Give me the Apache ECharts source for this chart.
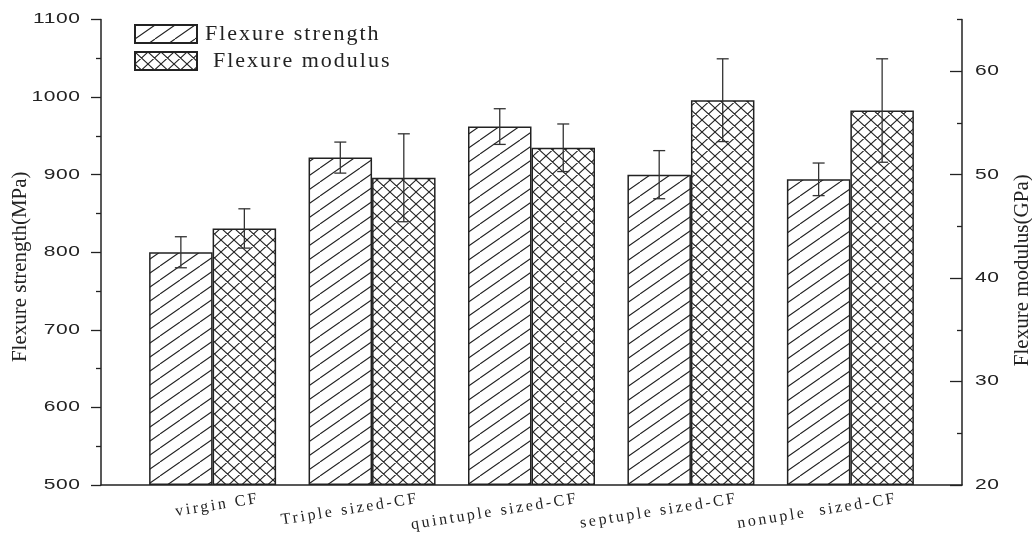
<!DOCTYPE html>
<html>
<head>
<meta charset="utf-8">
<script src="https://cdn.jsdelivr.net/npm/echarts@6/dist/echarts.min.js"></script>
<style>
  html, body { margin: 0; padding: 0; background: #fff; }
  #chart { width: 1032px; height: 538px; }
</style>
</head>
<body>
<div id="chart"></div>
<script>
// Fibre treatments on the category axis
const categories = ['virgin CF', 'Triple sized-CF', 'quintuple sized-CF', 'septuple sized-CF', 'nonuple  sized-CF'];

// Flexure strength (MPa) and its spread
const strength = [800, 922, 962, 900, 894];
const strengthErr = [20, 20, 23, 31, 21];

// Flexure modulus (GPa) and its spread
const modulus = [44.8, 49.7, 52.6, 57.2, 56.2];
const modulusErr = [1.9, 4.25, 2.3, 4.0, 5.0];

// Right-hand axis tick marks
const modulusTicks = [20, 30, 40, 50, 60];
const modulusMinorTicks = [25, 35, 45, 55, 65];

const SERIES_NAMES = ['Flexure strength', 'Flexure modulus'];
const INK = '#222';
const BAR_W = 63.5;
const LABEL_SHIFT = 0.276;   // category names sit to the right of the group centre

// Wide, letter-spaced lettering for tick numbers, category names and legend
const TEXT_LOOKS = {
  14: { sx: 1.5, ls: 0.4 },
  16: { sx: 1, ls: 2.6 },
  22: { sx: 1, ls: 2 }
};
(function () {
  const proto = CanvasRenderingContext2D.prototype;
  const nativeFill = proto.fillText;
  proto.fillText = function (text, x, y) {
    const m = /(\d+(?:\.\d+)?)px/.exec(this.font);
    const look = m && TEXT_LOOKS[Math.round(parseFloat(m[1]))];
    if (!look) return nativeFill.apply(this, arguments);
    this.save();
    let ax = x;
    if (look.ls) {
      this.letterSpacing = look.ls + 'px';
      if (this.textAlign === 'right' || this.textAlign === 'end') ax += look.ls;
      else if (this.textAlign === 'center') ax += look.ls / 2;
    }
    if (look.sx !== 1) {
      const t = this.getTransform();
      const p = t.transformPoint(new DOMPoint(x, y));
      this.setTransform(new DOMMatrix().translate(p.x, p.y).scale(look.sx, 1).translate(-p.x, -p.y).multiply(t));
    }
    nativeFill.call(this, text, ax, y);
    this.restore();
  };
})();

// Hatch tiles used as bar fills
function hatchTile(cross) {
  const w = cross ? 13 : 20;
  const h = cross ? 12 : 14;
  const c = document.createElement('canvas');
  c.width = w; c.height = h;
  const ctx = c.getContext('2d');
  ctx.fillStyle = '#fff';
  ctx.fillRect(0, 0, w, h);
  ctx.strokeStyle = INK;
  ctx.lineWidth = 1.1;
  ctx.beginPath();
  for (const dx of [-w, 0, w]) {
    for (const dy of (cross ? [-h, 0, h] : [0])) {
      ctx.moveTo(dx, dy + h); ctx.lineTo(dx + w, dy);
      if (cross) { ctx.moveTo(dx, dy); ctx.lineTo(dx + w, dy + h); }
    }
  }
  ctx.stroke();
  return c;
}

function errorBars(shift) {
  return function (params, api) {
    const x = api.value(0), v = api.value(1), e = api.value(2);
    const hi = api.coord([x, v + e]);
    const lo = api.coord([x, v - e]);
    const cx = hi[0] + shift;
    const half = 6;
    const style = { stroke: '#333', lineWidth: 1.3, fill: null };
    return {
      type: 'group',
      children: [
        { type: 'line', shape: { x1: cx, y1: hi[1], x2: cx, y2: lo[1] }, style },
        { type: 'line', shape: { x1: cx - half, y1: hi[1], x2: cx + half, y2: hi[1] }, style },
        { type: 'line', shape: { x1: cx - half, y1: lo[1], x2: cx + half, y2: lo[1] }, style }
      ]
    };
  };
}

const axisLine = { show: true, onZero: false, lineStyle: { color: INK, width: 1.5 } };
const tickStyle = { color: INK, width: 1.3 };
const numberLabel = { fontFamily: 'Liberation Sans', fontSize: 14, color: INK, formatter: v => String(v) };
const titleStyle = { fontFamily: 'Liberation Serif', fontSize: 21, color: INK };

const chart = echarts.init(document.getElementById('chart'), null, { renderer: 'canvas' });
chart.setOption({
  backgroundColor: '#fff',
  animation: false,
  grid: { left: 101, right: 70, top: 19.5, bottom: 53, outerBoundsMode: 'none' },
  legend: {
    orient: 'vertical',
    left: 134,
    top: 23,
    padding: 0,
    itemWidth: 62,
    itemHeight: 18,
    itemGap: 5,
    icon: 'rect',
    selectedMode: false,
    data: [
      { name: SERIES_NAMES[0] },
      { name: SERIES_NAMES[1], textStyle: { padding: [3, 0, 0, 11] } }
    ],
    textStyle: { fontFamily: 'Liberation Serif', fontSize: 22, color: INK, padding: [3, 0, 0, 3] }
  },
  xAxis: {
    type: 'value',
    min: -0.7,
    max: 4.7,
    splitLine: { show: false },
    axisTick: { show: false },
    axisLine: { show: true, onZero: false, lineStyle: { color: INK, width: 1.5 } },
    axisLabel: {
      customValues: categories.map((_, i) => i + LABEL_SHIFT),
      formatter: v => categories[Math.round(v - LABEL_SHIFT)],
      rotate: 9,
      margin: 14,
      fontFamily: 'Liberation Serif',
      fontSize: 16,
      color: INK
    }
  },
  yAxis: [
    {
      type: 'value', position: 'left',
      min: 500, max: 1100, interval: 100, startValue: 500,
      splitLine: { show: false },
      axisLine,
      axisTick: { show: true, length: 10, lineStyle: tickStyle },
      minorTick: { show: true, splitNumber: 2, length: 5, lineStyle: tickStyle },
      axisLabel: Object.assign({ margin: 21 }, numberLabel),
      name: 'Flexure strength(MPa)',
      nameLocation: 'middle',
      nameRotate: 90,
      nameGap: 70,
      nameTextStyle: Object.assign({ padding: [0, 29, 0, 0] }, titleStyle)
    },
    {
      type: 'value', position: 'right', offset: 0,
      min: 20, max: 65, interval: 10, startValue: 20,
      splitLine: { show: false },
      axisLine,
      axisTick: { show: true, inside: true, length: 12, customValues: modulusTicks, lineStyle: tickStyle },
      axisLabel: Object.assign({ margin: 13, customValues: modulusTicks }, numberLabel),
      name: 'Flexure modulus(GPa)',
      nameLocation: 'middle',
      nameRotate: 90,
      nameGap: 50,
      nameTextStyle: Object.assign({ padding: [0, 36, 0, 0] }, titleStyle)
    },
    {
      type: 'value', position: 'right', offset: 0,
      min: 20, max: 65,
      splitLine: { show: false },
      axisLine: { show: false, onZero: false },
      axisLabel: { show: false },
      axisTick: { show: true, inside: true, length: 5, customValues: modulusMinorTicks, lineStyle: tickStyle }
    }
  ],
  series: [
    {
      name: SERIES_NAMES[0],
      type: 'bar',
      yAxisIndex: 0,
      barWidth: BAR_W,
      barGap: '0%',
      data: strength.map((v, i) => [i, v]),
      itemStyle: { color: { image: hatchTile(false), repeat: 'repeat' }, borderColor: INK, borderWidth: 1.5 }
    },
    {
      name: SERIES_NAMES[1],
      type: 'bar',
      yAxisIndex: 1,
      barWidth: BAR_W,
      barGap: '0%',
      data: modulus.map((v, i) => [i, v]),
      itemStyle: { color: { image: hatchTile(true), repeat: 'repeat' }, borderColor: INK, borderWidth: 1.5 }
    },
    {
      type: 'custom',
      yAxisIndex: 0,
      z: 5,
      encode: { x: 0, y: 1 },
      renderItem: errorBars(-BAR_W / 2),
      data: strength.map((v, i) => [i, v, strengthErr[i]])
    },
    {
      type: 'custom',
      yAxisIndex: 1,
      z: 5,
      encode: { x: 0, y: 1 },
      renderItem: errorBars(BAR_W / 2),
      data: modulus.map((v, i) => [i, v, modulusErr[i]])
    }
  ]
});
</script>
</body>
</html>
